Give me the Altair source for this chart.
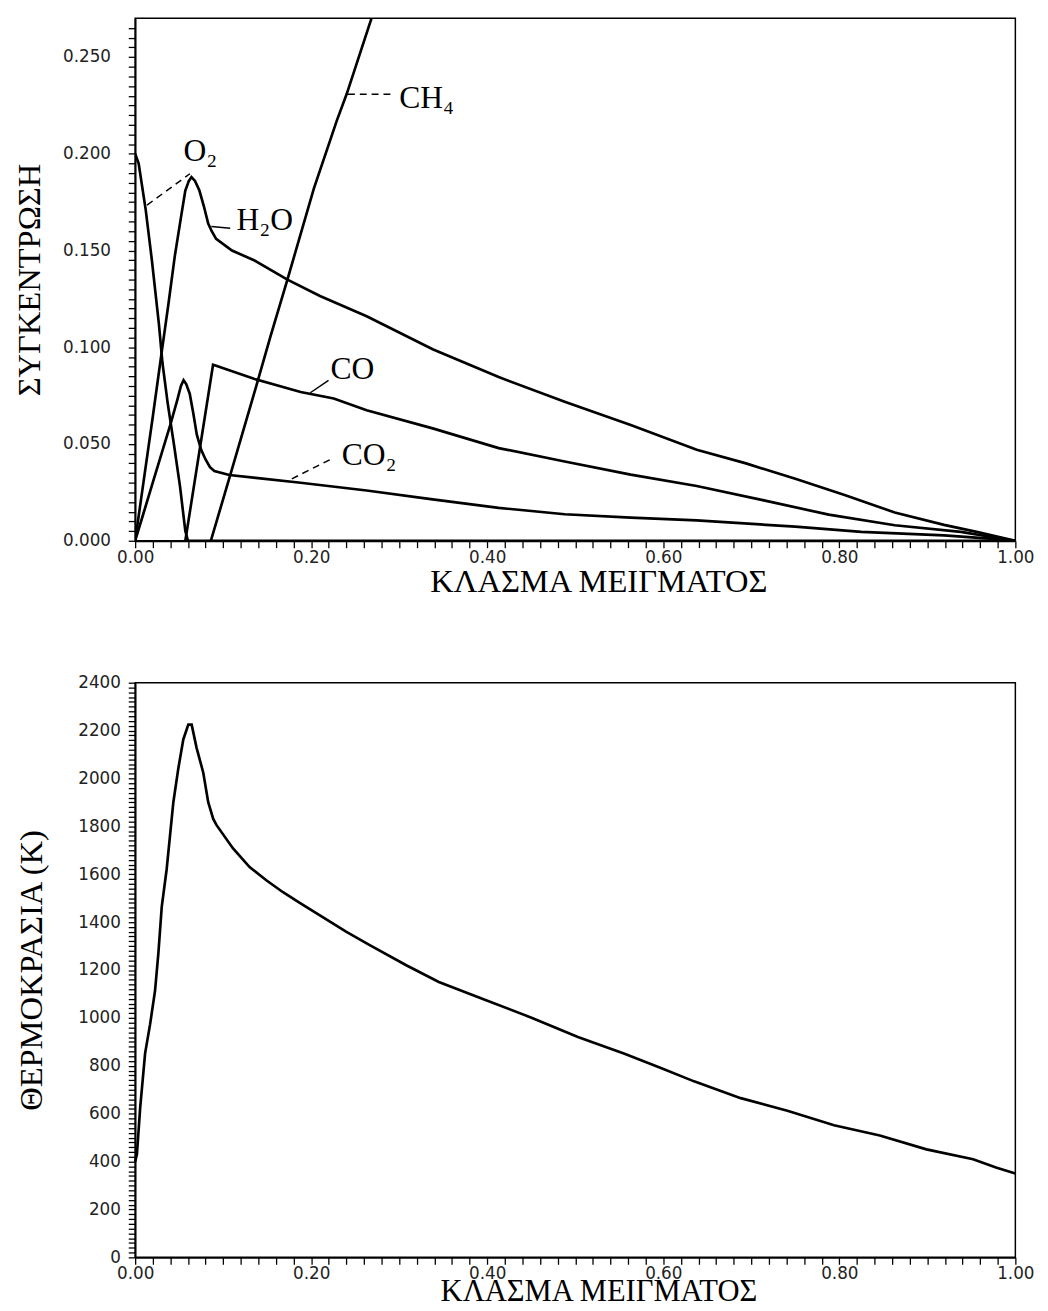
import altair as alt
import pandas as pd

# ---------------- top panel: concentrations ----------------
o2_x = [0.0, 0.004, 0.012, 0.019, 0.027, 0.031, 0.037, 0.044, 0.051, 0.057, 0.060, 1.0]
o2_y = [0.200, 0.195, 0.171, 0.145, 0.112, 0.092, 0.071, 0.050, 0.028, 0.005, 0.0, 0.0]

h2o_x = [0.0, 0.010, 0.020, 0.030, 0.038, 0.045, 0.052, 0.057, 0.061, 0.064, 0.068, 0.073,
         0.078, 0.083, 0.087, 0.092, 0.110, 0.135, 0.173, 0.210, 0.263, 0.338, 0.413, 0.488,
         0.563, 0.638, 0.694, 0.750, 0.806, 0.863, 0.919, 0.956, 1.0]
h2o_y = [0.0, 0.032, 0.064, 0.097, 0.123, 0.147, 0.167, 0.181, 0.186, 0.188, 0.186, 0.181,
         0.173, 0.164, 0.160, 0.156, 0.150, 0.145, 0.135, 0.1265, 0.116, 0.099, 0.0846, 0.0718,
         0.0598, 0.047, 0.040, 0.032, 0.0237, 0.0146, 0.0082, 0.0046, 0.0]

co2_x = [0.0, 0.010, 0.020, 0.030, 0.040, 0.048, 0.052, 0.055, 0.058, 0.062, 0.066, 0.070,
         0.075, 0.080, 0.085, 0.090, 0.107, 0.137, 0.188, 0.263, 0.338, 0.413, 0.488, 0.563,
         0.638, 0.750, 0.825, 0.919, 0.975, 1.0]
co2_y = [0.0, 0.015, 0.030, 0.045, 0.060, 0.073, 0.080, 0.083, 0.081, 0.076, 0.066, 0.055,
         0.047, 0.042, 0.038, 0.036, 0.034, 0.0325, 0.030, 0.026, 0.0214, 0.017, 0.0137, 0.012,
         0.0105, 0.0073, 0.0046, 0.0028, 0.001, 0.0]

co_x = [0.057, 0.0885, 0.092, 0.135, 0.188, 0.2256, 0.263, 0.338, 0.413, 0.488, 0.563, 0.638,
        0.713, 0.788, 0.863, 0.938, 0.975, 1.0]
co_y = [0.0, 0.091, 0.0905, 0.0837, 0.0769, 0.0735, 0.0675, 0.0581, 0.0479, 0.041, 0.0342, 0.0283,
        0.021, 0.0135, 0.008, 0.0046, 0.0018, 0.0]

ch4_x = [0.086, 0.110, 0.137, 0.154, 0.173, 0.203, 0.229, 0.2404, 0.2685]
ch4_y = [0.0, 0.037, 0.079, 0.106, 0.135, 0.182, 0.217, 0.231, 0.270]

# species labels (left edge x, middle y)
label_text = ["O₂", "H₂O", "CO", "CO₂", "CH₄"]
label_x = [0.055, 0.115, 0.222, 0.2347, 0.300]
label_y = [0.2015, 0.1655, 0.0887, 0.0441, 0.229]

# leader lines from curve to label
solid_lead_x1 = [0.0866, 0.199]
solid_lead_y1 = [0.1624, 0.0765]
solid_lead_x2 = [0.108, 0.2197]
solid_lead_y2 = [0.1615, 0.0829]
dash_lead_x1 = [0.0135, 0.178, 0.2418]
dash_lead_y1 = [0.1735, 0.032, 0.2308]
dash_lead_x2 = [0.0622, 0.226, 0.2924]
dash_lead_y2 = [0.1897, 0.043, 0.2308]

# ---------------- bottom panel: temperature ----------------
t_x = [0.0, 0.002, 0.0057, 0.0113, 0.017, 0.0226, 0.0264, 0.0302, 0.0358, 0.0396, 0.0434,
       0.049, 0.0547, 0.0604, 0.0642, 0.0698, 0.0774, 0.083, 0.0887, 0.0925, 0.111, 0.130,
       0.149, 0.168, 0.187, 0.2396, 0.266, 0.308, 0.345, 0.398, 0.451, 0.503, 0.556, 0.598,
       0.635, 0.688, 0.741, 0.794, 0.846, 0.899, 0.952, 0.978, 1.0]
t_y = [400, 430, 624, 852, 974, 1114, 1271, 1464, 1621, 1761, 1901,
       2041, 2163, 2225, 2225, 2128, 2024, 1901, 1831, 1805, 1709, 1630,
       1575, 1525, 1480, 1360, 1305, 1220, 1150, 1075, 1000, 920, 850, 790,
       735, 665, 612, 552, 509, 451, 410, 375, 350]

# axis tick settings
x_step = 0.02
x_max = 1.0
y1_step = 0.005
y1_last = 0.265
y1_top = 0.27
y2_step = 20
y2_max = 2400

x_ticks = [round(i * x_step, 2) for i in range(int(round(x_max / x_step)) + 1)]
y1_ticks = [round(i * y1_step, 3) for i in range(int(round(y1_last / y1_step)) + 1)]
y2_ticks = [i * y2_step for i in range(int(y2_max / y2_step) + 1)]

rows = []
for name, xs, ys in [("O2", o2_x, o2_y), ("H2O", h2o_x, h2o_y), ("CO2", co2_x, co2_y),
                     ("CO", co_x, co_y), ("CH4", ch4_x, ch4_y)]:
    for i, (a, b) in enumerate(zip(xs, ys)):
        rows.append({"species": name, "idx": i, "x": a, "y": b})
top_df = pd.DataFrame(rows)
lab_df = pd.DataFrame({"text": label_text, "x": label_x, "y": label_y})
solid_df = pd.DataFrame({"x": solid_lead_x1, "y": solid_lead_y1, "x2": solid_lead_x2, "y2": solid_lead_y2})
dash_df = pd.DataFrame({"x": dash_lead_x1, "y": dash_lead_y1, "x2": dash_lead_x2, "y2": dash_lead_y2})
t_df = pd.DataFrame({"x": t_x, "T": t_y})

X_LABEL_EXPR = "(abs(datum.value*5 - round(datum.value*5)) < 0.001) ? format(datum.value, '.2f') : ''"
Y1_LABEL_EXPR = "(abs(datum.value*20 - round(datum.value*20)) < 0.001) ? format(datum.value, '.3f') : ''"
Y2_LABEL_EXPR = "(datum.value % 200 == 0) ? format(datum.value, 'd') : ''"

W = 893
H1 = 530
H2 = 583

x_scale = alt.Scale(domain=[0, 1], nice=False, zero=False)
y1_scale = alt.Scale(domain=[0, y1_top], nice=False)
y2_scale = alt.Scale(domain=[0, y2_max], nice=False)

AX = dict(domainColor="black", domainWidth=1.8, tickColor="black", tickWidth=1.3,
          labelFont="DejaVu Sans", labelFontSize=17, labelColor="#222222",
          titleFont="Liberation Serif", titleFontWeight="normal",
          titleColor="black", grid=False, labelOverlap=False, labelFlush=False, tickSize=7)

x_axis_top = alt.Axis(values=x_ticks, labelExpr=X_LABEL_EXPR, title="ΚΛΑΣΜΑ ΜΕΙΓΜΑΤΟΣ",
                      titleX=470, labelPadding=2, titlePadding=0, titleFontSize=33, **AX)
x_axis_bot = alt.Axis(values=x_ticks, labelExpr=X_LABEL_EXPR, title="ΚΛΑΣΜΑ ΜΕΙΓΜΑΤΟΣ",
                      titleX=470, labelPadding=1, titlePadding=-4, titleFontSize=31, **AX)
y1_axis = alt.Axis(values=y1_ticks, labelExpr=Y1_LABEL_EXPR, title="ΣΥΓΚΕΝΤΡΩΣΗ",
                   labelPadding=18, titlePadding=16, titleFontSize=33, **AX)
y2_axis = alt.Axis(values=y2_ticks, labelExpr=Y2_LABEL_EXPR, title="ΘΕΡΜΟΚΡΑΣΙΑ (K)",
                   labelPadding=8, titlePadding=30, titleFontSize=33, **AX)

X1 = alt.X("x:Q", scale=x_scale, axis=x_axis_top)
Y1 = alt.Y("y:Q", scale=y1_scale, axis=y1_axis)

lines = alt.Chart(top_df).mark_line(color="black", strokeWidth=2.7, clip=True).encode(
    x=X1, y=Y1, detail="species:N", order="idx:Q")
labels = alt.Chart(lab_df).mark_text(font="Liberation Serif", fontSize=32, align="left",
                                     baseline="middle", color="black").encode(
    x=X1, y=Y1, text="text:N")
solid_leads = alt.Chart(solid_df).mark_rule(color="black", strokeWidth=1.5).encode(
    x=X1, y=Y1, x2="x2:Q", y2="y2:Q")
dash_leads = alt.Chart(dash_df).mark_rule(color="black", strokeWidth=1.5, strokeDash=[7, 5]).encode(
    x=X1, y=Y1, x2="x2:Q", y2="y2:Q")

top = alt.layer(lines, solid_leads, dash_leads, labels).properties(width=W, height=H1)

bottom = alt.Chart(t_df).mark_line(color="black", strokeWidth=2.7).encode(
    x=alt.X("x:Q", scale=x_scale, axis=x_axis_bot),
    y=alt.Y("T:Q", scale=y2_scale, axis=y2_axis),
).properties(width=W, height=H2)

chart = alt.vconcat(
    top, bottom, spacing=75, background="white",
    padding={"left": 5, "top": 0, "right": 5, "bottom": 0},
).configure_view(stroke="black", strokeWidth=1.5)

chart.save("out.html", embed_options={"renderer": "svg", "actions": False})
